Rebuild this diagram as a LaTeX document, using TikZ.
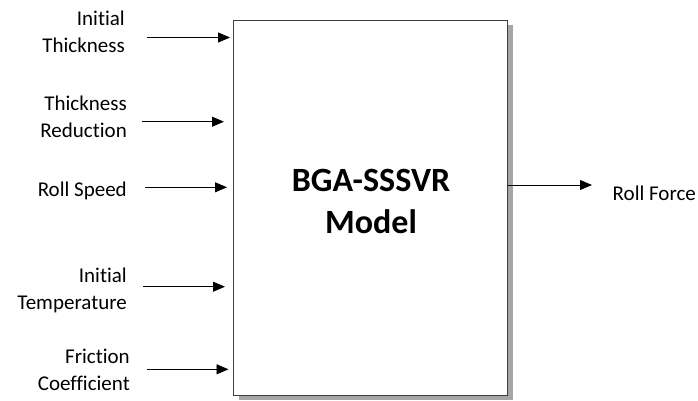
\documentclass[tikz,border=0pt]{standalone}
\usepackage{fontspec}
\setmainfont{Carlito}[Ligatures={NoCommon}]
\usepackage{tikz}
\usetikzlibrary{arrows.meta,positioning,shadows}
\newcommand{\lblfont}{\fontsize{21}{27}\selectfont}
\newcommand{\ttlfont}{\fontsize{34}{41.5}\selectfont\bfseries}

\begin{document}
\begin{tikzpicture}[>={Triangle[length=12pt,width=10pt]},x=1pt,y=-1pt,
  every node/.style={font=\lblfont,inner sep=0pt},
  inlabel/.style={anchor=east,align=right},
  sigline/.style={->,line width=0.9pt},
  modelbox/.style={draw=black!75,line width=1pt,fill=white,
    drop shadow={shadow xshift=5pt,shadow yshift=-5pt,fill=black!35,opacity=1}}]
\useasboundingbox (0,0) rectangle (698,400);
% Model block
\node[modelbox,minimum width=274pt,minimum height=375pt] (model) at (370.5,207.5) {};
\node[font=\ttlfont,align=center] (title) at (371,201.5) {BGA-SSSVR\\Model};
% Input labels
\node[inlabel] (thick) at (125,32) {Initial\\Thickness};
\node[inlabel] (red) at (127,116.7) {Thickness\\Reduction};
\node[inlabel] (speed) at (127,190.4) {Roll Speed};
\node[inlabel] (temp) at (127,290.5) {Initial\\Temperature};
\node[inlabel] (fric) at (130,369.7) {Friction\\Coefficient};
% Input arrows
\coordinate (thick-s) at (147,37.5);
\coordinate (thick-e) at (230,37.5);
\coordinate (red-s) at (142,121.7);
\coordinate (red-e) at (224,121.7);
\coordinate (speed-s) at (145,187.3);
\coordinate (speed-e) at (227,187.3);
\coordinate (temp-s) at (143,286.7);
\coordinate (temp-e) at (225,286.7);
\coordinate (fric-s) at (147,369.3);
\coordinate (fric-e) at (228.5,369.3);
\foreach \n in {thick,red,speed,temp,fric}
  \draw[sigline] (\n-s) -- (\n-e);
% Output
\node[anchor=west] (force) at (612.5,193.7) {Roll Force};
\coordinate (force-e) at (592,185);
\draw[sigline] (model.east |- force-e) -- (force-e);
\end{tikzpicture}
\end{document}
